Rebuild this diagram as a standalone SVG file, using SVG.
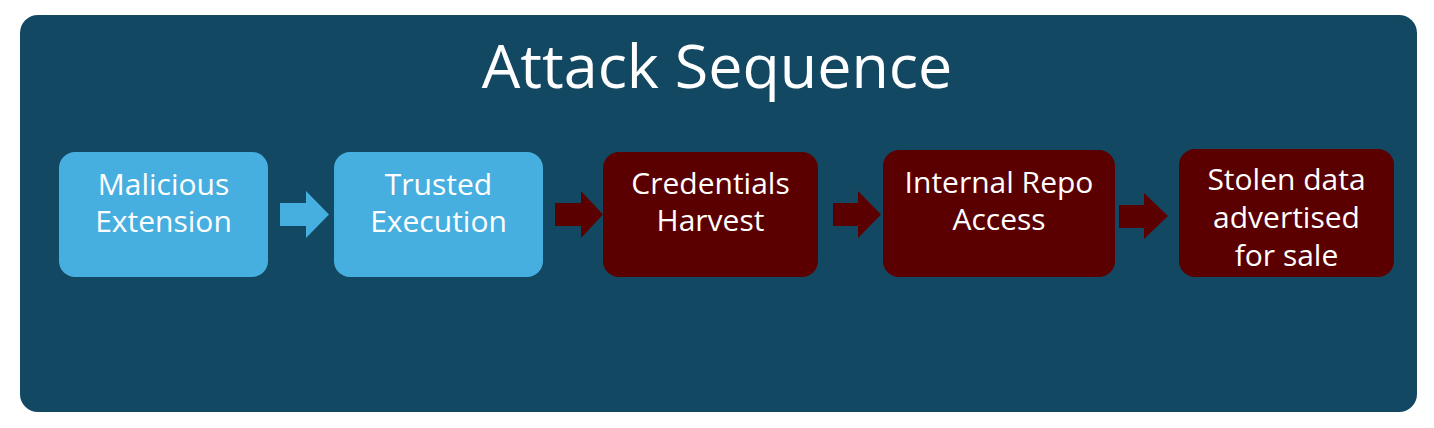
<svg xmlns="http://www.w3.org/2000/svg" width="1434" height="428" viewBox="0 0 1434 428">
<style>
.lbl{font-family:"Open Sans","Noto Sans",sans-serif;font-size:30px;fill:#ffffff;text-anchor:middle}
.title{font-family:"Open Sans","Noto Sans",sans-serif;font-size:61px;fill:#ffffff;text-anchor:middle}
.blue{fill:#47afe0}
.red{fill:#5a0000}
</style>
<rect x="20" y="15" width="1397" height="397" rx="18" fill="#134863"/>
<text class="title" x="717" y="88">Attack Sequence</text>
<g id="connectors">
<path class="blue" d="M280,203 H306 V191 L329,214.5 L306,238 V226 H280 Z"/>
<path class="red" d="M555,203 H581 V191 L603,214.5 L581,238 V226 H555 Z"/>
<path class="red" d="M833,203 H858 V191 L881,214.5 L858,238 V226 H833 Z"/>
<path class="red" d="M1119,205 H1144 V193 L1168,216 L1144,239 V228 H1119 Z"/>
</g>
<g id="node1">
<rect class="blue" x="59" y="152" width="209" height="125" rx="16"/>
<text class="lbl" x="163.5" y="195">Malicious</text>
<text class="lbl" x="163.5" y="232">Extension</text>
</g>
<g id="node2">
<rect class="blue" x="334" y="152" width="209" height="125" rx="16"/>
<text class="lbl" x="438.5" y="195">Trusted</text>
<text class="lbl" x="438.5" y="232">Execution</text>
</g>
<g id="node3">
<rect class="red" x="603" y="152" width="215" height="125" rx="16"/>
<text class="lbl" x="710.5" y="194">Credentials</text>
<text class="lbl" x="710.5" y="231">Harvest</text>
</g>
<g id="node4">
<rect class="red" x="883" y="150" width="232" height="127" rx="16"/>
<text class="lbl" x="999" y="193">Internal Repo</text>
<text class="lbl" x="999" y="230">Access</text>
</g>
<g id="node5">
<rect class="red" x="1179" y="149" width="215" height="128" rx="16"/>
<text class="lbl" x="1286.5" y="190">Stolen data</text>
<text class="lbl" x="1286.5" y="228">advertised</text>
<text class="lbl" x="1286.5" y="266">for sale</text>
</g>
</svg>
